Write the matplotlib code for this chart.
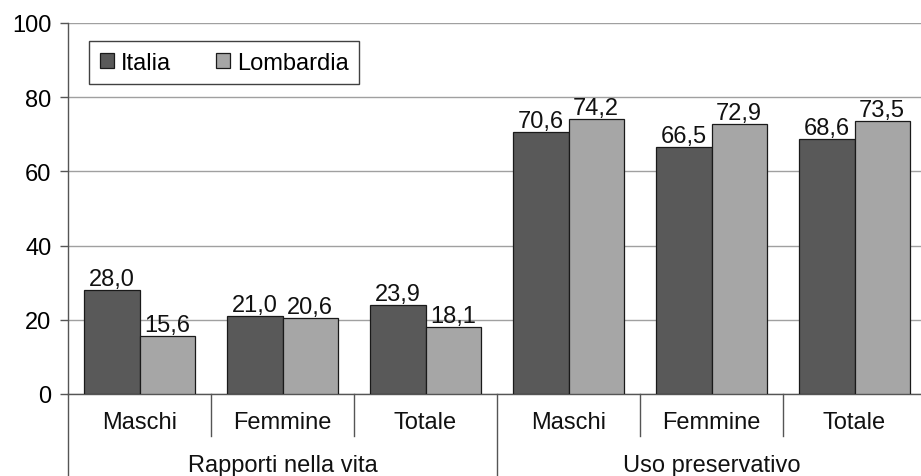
import matplotlib
matplotlib.use("Agg")
import matplotlib.pyplot as plt
from matplotlib.lines import Line2D
from matplotlib.patches import Patch
import numpy as np

plt.rcParams['font.family'] = ['Liberation Sans', 'DejaVu Sans']

groups = ["Rapporti nella vita", "Uso preservativo"]
categories = ["Maschi", "Femmine", "Totale", "Maschi", "Femmine", "Totale"]
series_names = ["Italia", "Lombardia"]
italia = [28.0, 21.0, 23.9, 70.6, 66.5, 68.6]
lombardia = [15.6, 20.6, 18.1, 74.2, 72.9, 73.5]
yticks = [0, 20, 40, 60, 80, 100]

col_it = "#595959"
col_lo = "#a6a6a6"
fs = 17

fig = plt.figure(figsize=(9.21, 4.77), dpi=100)
ax = fig.add_axes([68/921, (477-395)/477, 1 - 68/921, 371/477])

n = len(categories)
centers = np.arange(n) + 0.5
w = 0.385

bars_it = ax.bar(centers - w/2, italia, w, color=col_it, edgecolor="#1a1a1a", linewidth=0.9, zorder=3)
bars_lo = ax.bar(centers + w/2, lombardia, w, color=col_lo, edgecolor="#1a1a1a", linewidth=0.9, zorder=3)

def fmt(v):
    return f"{v:.1f}".replace(".", ",")

for bars, vals in ((bars_it, italia), (bars_lo, lombardia)):
    for b, v in zip(bars, vals):
        ax.annotate(fmt(v), (b.get_x() + b.get_width()/2, v), xytext=(0, 0),
                    textcoords="offset points", ha="center", va="bottom",
                    fontsize=fs, color="#111111", zorder=4)

ax.set_xlim(0, (921 - 68) / 143)
ax.set_ylim(0, 100)
ax.set_yticks(yticks)
ax.set_yticklabels([str(t) for t in yticks], fontsize=fs)
ax.tick_params(axis="y", length=6, width=1, color="#555555", pad=6)
ax.set_xticks([])

ax.grid(axis="y", color="#a0a0a0", linewidth=1, zorder=0)
ax.set_axisbelow(True)
for s in ("top", "right"):
    ax.spines[s].set_visible(False)
ax.spines["left"].set_color("#555555")
ax.spines["bottom"].set_color("#555555")
ax.spines["left"].set_linewidth(1)
ax.spines["bottom"].set_linewidth(1)

# hierarchical category axis below the plot
trans = ax.get_xaxis_transform()
depth_cat = -(437 - 395) / 371
depth_grp = -(477 - 395) / 371 - 0.01
for i in range(n + 1):
    x = float(i)
    bottom = depth_grp if i % 3 == 0 else depth_cat
    ax.add_line(Line2D([x, x], [0, bottom], transform=trans, color="#555555",
                       linewidth=1, clip_on=False))
for c, lab in zip(centers, categories):
    ax.text(c, -(423 - 395) / 371, lab, transform=trans, ha="center", va="center",
            fontsize=fs, color="#111111")
for g, name in enumerate(groups):
    ax.text(g * 3 + 1.5, -(466 - 395) / 371, name, transform=trans, ha="center",
            va="center", fontsize=fs, color="#111111")

handles = [Patch(facecolor=col_it, edgecolor="#1a1a1a", linewidth=0.9),
           Patch(facecolor=col_lo, edgecolor="#1a1a1a", linewidth=0.9)]
leg = ax.legend(handles, series_names, loc="upper left",
                bbox_to_anchor=((89 - 68) / 853, 1 - (42 - 24) / 371),
                ncol=2, fontsize=fs, frameon=True, fancybox=False, edgecolor="#111111",
                handlelength=0.6, handleheight=0.6, handletextpad=0.3, columnspacing=1.9,
                borderpad=0.45, borderaxespad=0)
leg.get_frame().set_linewidth(1)
leg._legend_box.align = "left"

fig.savefig("out.png", dpi=100)
